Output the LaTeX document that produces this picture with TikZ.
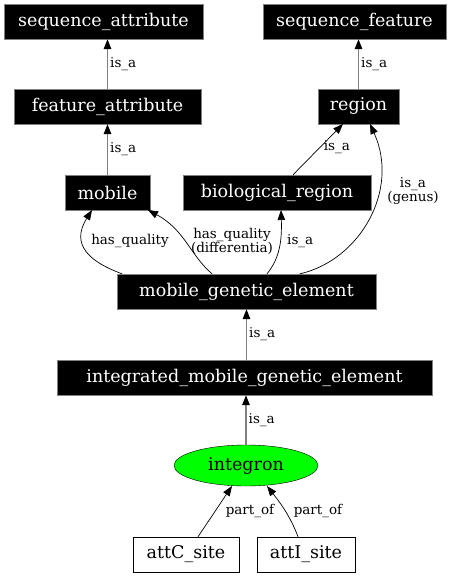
\documentclass[tikz,border=0pt]{standalone}
\usepackage{fontspec}
\setmainfont{DejaVu Serif}
\usetikzlibrary{arrows.meta,shapes.geometric}
\begin{document}
\begin{tikzpicture}[x=1pt,y=-1pt,
  term/.style={fill=black,draw=gray,text=white,minimum height=35pt,inner xsep=4pt,font=\fontsize{17.5}{20}\selectfont},
  plain/.style={fill=white,draw=black,minimum height=35pt,inner xsep=4pt,font=\fontsize{17.5}{20}\selectfont},
  rel/.style={-{Triangle[length=10pt,width=7.5pt,color=black]},black,line width=0.7pt},
  grel/.style={rel,draw=gray,line width=1.4pt},
  lab/.style={font=\fontsize{13.5}{14}\selectfont,align=center,inner sep=1pt}]
\useasboundingbox (0,0) rectangle (459,576);
\node[term,minimum width=199pt] (sa) at (103.5,21.5) {sequence\_attribute};
\node[term,minimum width=183pt] (sf) at (354.5,21.5) {sequence\_feature};
\node[term,minimum width=187pt] (fa) at (107.5,106.5) {feature\_attribute};
\node[term,minimum width=81pt] (re) at (358.5,106.5) {region};
\node[term,minimum width=85pt] (mo) at (107.5,192.5) {mobile};
\node[term,minimum width=188pt] (br) at (277,192.5) {biological\_region};
\node[term,minimum width=259pt] (mge) at (246.5,291.5) {mobile\_genetic\_element};
\node[term,minimum width=375pt] (imge) at (244.5,377.5) {integrated\_mobile\_genetic\_element};
\node[ellipse,fill=green,draw=black,minimum width=144pt,minimum height=41pt,inner sep=0pt,font=\fontsize{17.5}{20}\selectfont] (int) at (246,465.5) {integron};
\node[plain,minimum width=106pt] (attc) at (186,554.5) {attC\_site};
\node[plain,minimum width=98pt] (atti) at (306,554.5) {attI\_site};

\draw[grel] (fa.north) -- (fa.north |- sa.south) node[lab,midway,right,xshift=1pt] {is\_a};
\draw[grel] (re.north) -- (re.north |- sf.south) node[lab,midway,right,xshift=1pt] {is\_a};
\draw[grel] (mo.north) -- (fa.south) node[lab,midway,right,xshift=1pt] {is\_a};
\draw[rel] (br.north -| 293,0) -- (343,124) node[lab,pos=0.55,right,xshift=2pt] {is\_a};
\draw[rel] (mge.north -| 300,0) .. controls (360,260) and (400,190) .. (370,124);
\node[lab] (l1) at (413,191) {is\_a\\(genus)};
\draw[rel] (mge.north -| 122,0) .. controls (90,262) and (70,245) .. (92,210);
\node[lab] (l2) at (130,241) {has\_quality};
\draw[rel] (mge.north -| 212,0) .. controls (190,255) and (185,230) .. (148,210);
\node[lab] (l3) at (232,241) {has\_quality\\(differentia)};
\draw[rel] (mge.north -| 267,0) .. controls (280,258) and (282,240) .. (281,210);
\node[lab,right] (l4) at (286,241) {is\_a};
\draw[grel] (imge.north -| mge.south) -- (mge.south) node[lab,midway,right,xshift=1pt] {is\_a};
\draw[grel] (int.north) -- (int.north |- imge.south) node[lab,midway,right,xshift=1pt] {is\_a};
\draw[rel] (attc.north -| 198,0) -- (232,486);
\node[lab] (l5) at (250,511) {part\_of};
\draw[rel] (atti.north -| 298,0) .. controls (290,515) and (278,500) .. (267,486);
\node[lab] (l6) at (318,511) {part\_of};
\end{tikzpicture}
\end{document}
